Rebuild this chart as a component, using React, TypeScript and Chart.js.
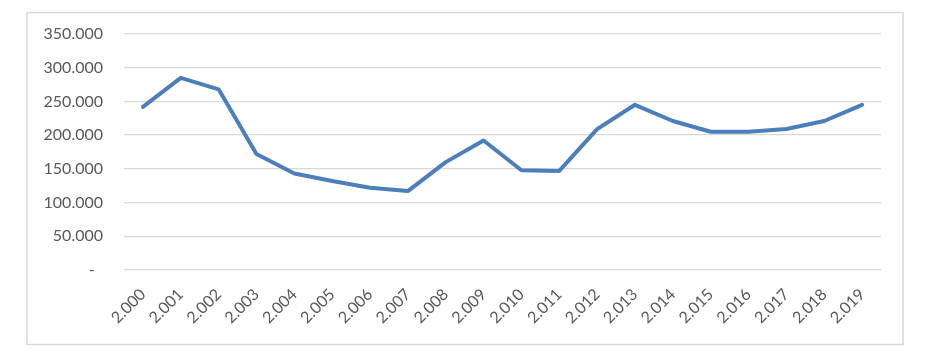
import React, { useEffect, useRef } from "react";
import { Chart, registerables } from "chart.js";

Chart.register(...registerables);

const categories = [
  "2.000", "2.001", "2.002", "2.003", "2.004", "2.005", "2.006", "2.007", "2.008", "2.009",
  "2.010", "2.011", "2.012", "2.013", "2.014", "2.015", "2.016", "2.017", "2.018", "2.019",
];

const values = [
  242000, 285000, 268000, 172000, 143000, 132000, 122000, 117000, 160000, 192000,
  148000, 147000, 209000, 245000, 221000, 205000, 205000, 209000, 221000, 245000,
];

const yMin = 0;
const yMax = 350000;
const yStep = 50000;

const FONT = "Lato, 'Liberation Sans', sans-serif";
const TEXT = "#595959";

function fmt(v: number): string {
  if (v === 0) return "-  ";
  return v.toLocaleString("de-DE");
}

const borderPlugin = {
  id: "outerBorder",
  beforeDraw(chart: any) {
    const ctx = chart.ctx;
    ctx.save();
    ctx.fillStyle = "#ffffff";
    ctx.fillRect(0, 0, chart.width, chart.height);
    ctx.strokeStyle = "#d9d9d9";
    ctx.lineWidth = 1.5;
    ctx.strokeRect(27, 12.5, 876, 332);
    ctx.restore();
  },
};

export default function App() {
  const ref = useRef<HTMLCanvasElement | null>(null);
  useEffect(() => {
    if (!ref.current) return;
    const chart = new Chart(ref.current, {
      type: "line",
      data: {
        labels: categories,
        datasets: [
          {
            data: values,
            borderColor: "#4b7fbc",
            backgroundColor: "#4b7fbc",
            borderWidth: 4,
            borderJoinStyle: "round",
            borderCapStyle: "round",
            pointRadius: 0,
            tension: 0,
          },
        ],
      },
      options: {
        responsive: false,
        animation: false,
        layout: { padding: { left: 0, right: 44, top: 34, bottom: 0 } },
        plugins: { legend: { display: false }, tooltip: { enabled: false } },
        scales: {
          x: {
            offset: true,
            grid: { display: false, drawTicks: false },
            border: { display: false },
            ticks: {
              minRotation: 45,
              maxRotation: 45,
              padding: 15,
              color: TEXT,
              font: { family: FONT, size: 16 },
            },
            afterFit(scale: any) {
              scale.height = 85;
            },
          },
          y: {
            min: yMin,
            max: yMax,
            grid: { color: "#d9d9d9", lineWidth: 1.3, drawTicks: false },
            border: { display: false },
            ticks: {
              stepSize: yStep,
              padding: 21,
              color: TEXT,
              font: { family: FONT, size: 16 },
              callback: (v: any) => fmt(Number(v)),
            },
            afterFit(scale: any) {
              scale.width = 124;
            },
          },
        },
      },
      plugins: [borderPlugin],
    });
    return () => chart.destroy();
  }, []);
  return (
    <div style={{ position: "absolute", left: 0, top: 0, width: 925, height: 355, background: "#fff" }}>
      <canvas ref={ref} width={925} height={355} />
    </div>
  );
}
